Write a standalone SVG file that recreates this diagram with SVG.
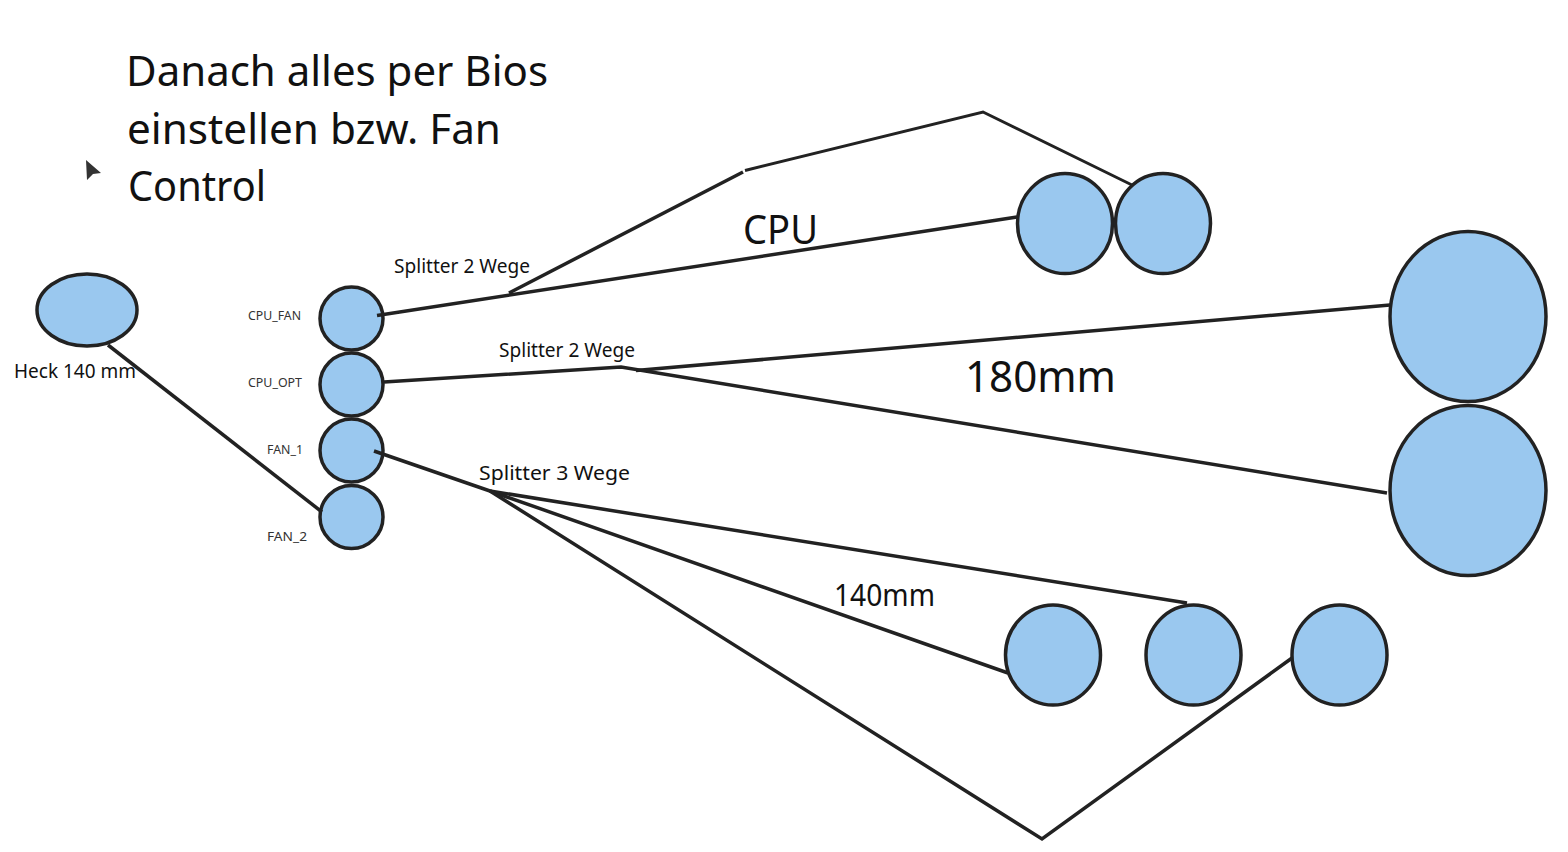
<svg xmlns="http://www.w3.org/2000/svg" width="1568" height="852" viewBox="0 0 1568 852">
<style>
.fan{fill:#9ac8ef;stroke:#222;stroke-width:3.5}
.wire{fill:none;stroke:#222;stroke-width:3.5;stroke-linecap:butt;stroke-linejoin:miter}
.thin{stroke-width:3}
text{font-family:"Noto Sans","Liberation Sans",sans-serif;fill:#111}
.title{font-size:42px}
.label{font-size:20px}
.pin{font-size:12px;fill:#333}
</style>
<rect width="1568" height="852" fill="#fff"/>
<g id="fan-heck"><ellipse class="fan" cx="87" cy="310" rx="50" ry="36"/></g>
<g id="fan-cpu-fan"><circle class="fan" cx="351.500" cy="318.500" r="31.500"/></g>
<g id="fan-cpu-opt"><circle class="fan" cx="351.500" cy="384.500" r="31.500"/></g>
<g id="fan-1"><circle class="fan" cx="351.500" cy="450.500" r="31.500"/></g>
<g id="fan-2"><circle class="fan" cx="351.500" cy="517" r="31.500"/></g>
<g id="cpu-a"><ellipse class="fan" cx="1065" cy="223.500" rx="47.500" ry="50"/></g>
<g id="cpu-b"><ellipse class="fan" cx="1163" cy="223.500" rx="47.500" ry="50"/></g>
<g id="case-a"><ellipse class="fan" cx="1468" cy="316.500" rx="78" ry="85"/></g>
<g id="case-b"><ellipse class="fan" cx="1468" cy="490.500" rx="78" ry="85"/></g>
<g id="case-c"><ellipse class="fan" cx="1053" cy="655" rx="47.500" ry="50"/></g>
<g id="case-d"><ellipse class="fan" cx="1193.500" cy="655" rx="47.500" ry="50"/></g>
<g id="case-e"><ellipse class="fan" cx="1339.500" cy="655" rx="47.500" ry="50"/></g>
<g id="connectors">
<path class="wire" d="M108 345L322 512"/>
<path class="wire" d="M377 315.500L1017 217"/>
<path class="wire" d="M509 293L743 172"/>
<path class="wire thin" d="M745 170.500L983 112L1132 185"/>
<path class="wire" d="M384 382L621 367L1387 493"/>
<path class="wire" d="M636 370.500L1390 305"/>
<path class="wire" d="M374 451L490 491L1008 673"/>
<path class="wire" d="M490 491L1187 603"/>
<path class="wire" d="M490 491L1042 839L1292 658"/>
</g>
<polygon id="pointer" points="86,160 101,173 93,174 87,180" fill="#333"/>
<g id="labels">
<text class="title" x="126" y="86" textLength="422" lengthAdjust="spacingAndGlyphs">Danach alles per Bios</text>
<text class="title" x="127" y="144" textLength="374" lengthAdjust="spacingAndGlyphs">einstellen bzw. Fan</text>
<text class="title" x="128" y="201" textLength="138" lengthAdjust="spacingAndGlyphs">Control</text>
<text class="label" x="394" y="273" textLength="136" lengthAdjust="spacingAndGlyphs">Splitter 2 Wege</text>
<text class="label" x="499" y="357" textLength="136" lengthAdjust="spacingAndGlyphs">Splitter 2 Wege</text>
<text class="label" x="479" y="480" textLength="151" lengthAdjust="spacingAndGlyphs">Splitter 3 Wege</text>
<text class="label" x="14" y="378" textLength="122" lengthAdjust="spacingAndGlyphs">Heck 140 mm</text>
<text class="pin" x="248" y="320" textLength="53" lengthAdjust="spacingAndGlyphs">CPU_FAN</text>
<text class="pin" x="248" y="387" textLength="54" lengthAdjust="spacingAndGlyphs">CPU_OPT</text>
<text class="pin" x="267" y="454" textLength="36" lengthAdjust="spacingAndGlyphs">FAN_1</text>
<text class="pin" x="267" y="541" textLength="40" lengthAdjust="spacingAndGlyphs">FAN_2</text>
<text x="743" y="244" font-size="40" textLength="75" lengthAdjust="spacingAndGlyphs">CPU</text>
<text x="965" y="392" font-size="44" textLength="151" lengthAdjust="spacingAndGlyphs">180mm</text>
<text x="834" y="606" font-size="30" textLength="101" lengthAdjust="spacingAndGlyphs">140mm</text>
</g>
</svg>
